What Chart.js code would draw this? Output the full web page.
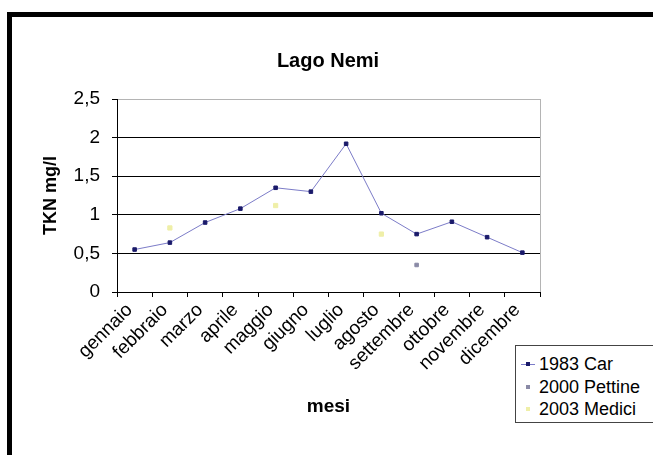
<!DOCTYPE html>
<html>
<head>
<meta charset="utf-8">
<script src="https://cdn.jsdelivr.net/npm/chart.js@4/dist/chart.umd.min.js"></script>
<style>
  html, body { margin: 0; padding: 0; background: #fff; overflow: hidden; }
  #wrap { position: relative; width: 653px; height: 455px; }
  #c { position: absolute; left: 0; top: 0; }
  #legend {
    position: absolute; left: 515px; top: 345px; width: 140px; height: 76px;
    border: 1px solid #444; background: #fff;
    font: 18px "Liberation Sans", Arial, sans-serif; color: #000;
  }
  .item { position: absolute; left: 0; width: 140px; height: 20px; line-height: 20px; }
  .item .txt { position: absolute; left: 23px; top: 0; white-space: nowrap; }
  .item .ln { position: absolute; left: 5px; top: 10px; width: 14px; height: 1px; }
  .item .mk { position: absolute; left: 10px; top: 8px; width: 4px; height: 4px; }
</style>
</head>
<body>
<div id="wrap">
  <canvas id="c" width="653" height="455"></canvas>
  <div id="legend"></div>
</div>
<script>
// Monthly TKN concentrations (mg/l) in Lago Nemi
const months = ['gennaio', 'febbraio', 'marzo', 'aprile', 'maggio', 'giugno',
                'luglio', 'agosto', 'settembre', 'ottobre', 'novembre', 'dicembre'];
const car1983     = [0.55, 0.64, 0.90, 1.08, 1.35, 1.30, 1.92, 1.02, 0.75, 0.91, 0.71, 0.51];
const pettine2000 = [null, null, null, null, null, null, null, null, 0.35, null, null, null];
const medici2003  = [null, 0.83, null, null, 1.12, null, null, 0.75, null, null, null, null];
const yTicks = [0, 0.5, 1, 1.5, 2, 2.5];
const seriesNames = ['1983 Car', '2000 Pettine', '2003 Medici'];
const chartTitle = 'Lago Nemi';

const FONT = '"Liberation Sans", Arial, sans-serif';
const COLORS = {
  carLine: '#7c7cc8',
  carPoint: '#1a1a6a',
  pettine: '#8a8aa6',
  medici: '#efefa8'
};

// white background, thick outer frame, centred title
const framePlugin = {
  id: 'frame',
  beforeDraw(chart) {
    const ctx = chart.ctx;
    ctx.save();
    ctx.fillStyle = '#fff';
    ctx.fillRect(0, 0, chart.width, chart.height);
    ctx.strokeStyle = '#000';
    ctx.lineWidth = 5;
    ctx.strokeRect(9.5, 14.5, 800, 600);
    ctx.fillStyle = '#000';
    ctx.font = 'bold 20px ' + FONT;
    ctx.textAlign = 'center';
    ctx.textBaseline = 'middle';
    ctx.fillText(chartTitle, 328, 61);
    ctx.restore();
  },
  // light border on the right side of the plot area
  afterDatasetsDraw(chart) {
    const { ctx, chartArea } = chart;
    ctx.save();
    ctx.strokeStyle = '#b4b4b4';
    ctx.lineWidth = 1;
    ctx.beginPath();
    ctx.moveTo(Math.round(chartArea.right) + 0.5, chartArea.top);
    ctx.lineTo(Math.round(chartArea.right) + 0.5, chartArea.bottom);
    ctx.stroke();
    ctx.restore();
  }
};

new Chart(document.getElementById('c'), {
  type: 'line',
  data: {
    labels: months,
    datasets: [
      {
        label: seriesNames[0], data: car1983,
        borderColor: COLORS.carLine, borderWidth: 1,
        pointStyle: 'rect', pointRadius: 2.5,
        pointBackgroundColor: COLORS.carPoint, pointBorderColor: COLORS.carPoint,
        tension: 0
      },
      {
        label: seriesNames[1], data: pettine2000, showLine: false,
        pointStyle: 'rect', pointRadius: 2.5,
        pointBackgroundColor: COLORS.pettine, pointBorderColor: COLORS.pettine
      },
      {
        label: seriesNames[2], data: medici2003, showLine: false,
        pointStyle: 'rect', pointRadius: 3,
        pointBackgroundColor: COLORS.medici, pointBorderColor: COLORS.medici
      }
    ]
  },
  options: {
    responsive: false,
    animation: false,
    events: [],
    layout: { padding: { left: 36, right: 113, top: 99, bottom: 33 } },
    plugins: {
      legend: { display: false },
      tooltip: { enabled: false },
      title: { display: false }
    },
    scales: {
      x: {
        type: 'category', offset: true,
        grid: { offset: true, drawOnChartArea: false, color: '#000', tickLength: 5 },
        border: { color: '#000', width: 1 },
        ticks: {
          color: '#000', font: { family: FONT, size: 19 },
          minRotation: 45, maxRotation: 45, padding: 2, labelOffset: -5, autoSkip: false
        },
        title: {
          display: true, text: 'mesi', color: '#000',
          font: { family: FONT, size: 19, weight: 'bold' },
          padding: { top: 4, bottom: 4 }
        },
        afterFit(scale) { scale.height = 130; }
      },
      y: {
        min: 0, max: 2.5,
        afterBuildTicks(scale) { scale.ticks = yTicks.map(v => ({ value: v })); },
        grid: {
          color: ctx => (ctx.tick && ctx.tick.value === 2.5 ? '#b4b4b4' : '#000'),
          tickColor: '#000', tickLength: 5, lineWidth: 1
        },
        border: { color: '#000', width: 1 },
        ticks: {
          color: '#000', font: { family: FONT, size: 19 }, padding: 12,
          callback: v => String(v).replace('.', ',')
        },
        title: {
          display: true, text: 'TKN mg/l', color: '#000',
          font: { family: FONT, size: 18, weight: 'bold' },
          padding: { top: 4, bottom: 4 }
        },
        afterFit(scale) { scale.width = 81; }
      }
    }
  },
  plugins: [framePlugin]
});

// legend box
const legend = document.getElementById('legend');
const legendRows = [
  { name: seriesNames[0], line: COLORS.carLine, mark: COLORS.carPoint },
  { name: seriesNames[1], line: null, mark: COLORS.pettine },
  { name: seriesNames[2], line: null, mark: COLORS.medici }
];
legendRows.forEach((r, i) => {
  const row = document.createElement('div');
  row.className = 'item';
  row.style.top = (8 + i * 22.5) + 'px';
  if (r.line) {
    const ln = document.createElement('span');
    ln.className = 'ln';
    ln.style.background = r.line;
    row.appendChild(ln);
  }
  const mk = document.createElement('span');
  mk.className = 'mk';
  mk.style.background = r.mark;
  row.appendChild(mk);
  const t = document.createElement('span');
  t.className = 'txt';
  t.textContent = r.name;
  row.appendChild(t);
  legend.appendChild(row);
});
</script>
</body>
</html>
